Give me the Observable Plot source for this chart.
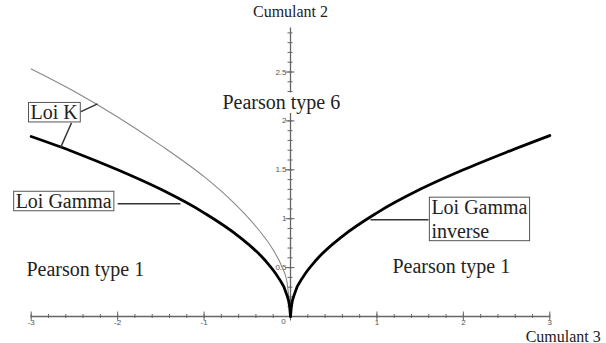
<!DOCTYPE html>
<html>
<head>
<meta charset="utf-8">
<script src="https://cdn.jsdelivr.net/npm/d3@7"></script>
<script src="https://cdn.jsdelivr.net/npm/@observablehq/plot@0.6"></script>
<style>
  html, body { margin: 0; padding: 0; background: #fff; }
  #chart svg { display: block; background: #fff; }
</style>
</head>
<body>
<div id="chart"></div>
<script>
// ---- data ----
const gammaLeftX  = [-3, -2.5, -2, -1.5, -1, -0.6, -0.3, -0.15, -0.05, -0.01, 0];
const gammaLeftY  = [1.84, 1.68, 1.50, 1.30, 1.06, 0.82, 0.58, 0.41, 0.24, 0.10, 0];
const gammaRightX = [0, 0.01, 0.05, 0.15, 0.3, 0.6, 1, 1.5, 2, 2.5, 3];
const gammaRightY = [0, 0.10, 0.24, 0.41, 0.58, 0.82, 1.06, 1.30, 1.50, 1.68, 1.85];
const loiKX = [-3, -2.5, -2, -1.5, -1, -0.7, -0.4, -0.2, -0.1, -0.04, 0];
const loiKY = [2.53, 2.30, 2.04, 1.75, 1.43, 1.20, 0.92, 0.68, 0.51, 0.35, 0];

const xMajorTicks = [-3, -2, -1, 0, 1, 2, 3];
const xTickLabels = ["-3", "-2", "-1", "0", "1", "2", "3"];
const xMinorTicks = d3.range(-30, 31, 2).map(v => v / 10);
const yMajorTicks = [0.5, 1, 1.5, 2, 2.5];
const yTickLabels = ["0.5", "1", "1.5", "2", "2.5"];
const yMinorTicks = d3.range(1, 30).map(v => v / 10);
const yAxisTop = 2.95;

// region labels (data coordinates of text baseline start)
const regionText = ["Pearson type 6", "Pearson type 1", "Pearson type 1"];
const regionX = [-0.787, -3.055, 1.18];
const regionY = [2.122, 0.418, 0.449];

// boxed curve labels
const boxText = ["Loi K", "Loi Gamma", "Loi Gamma\ninverse"];
const boxX = [-3.008, -3.18, 1.63];
const boxY = [2.02, 1.112, 0.806];

// leader lines
const leaderX1 = [-2.43, -2.534, -2.0, 0.926];
const leaderY1 = [2.092, 1.98, 1.153, 0.99];
const leaderX2 = [-2.233, -2.661, -1.273, 1.597];
const leaderY2 = [2.173, 1.724, 1.153, 0.99];

const axisTitles = ["Cumulant 2", "Cumulant 3"];

// ---- build tables ----
const gammaLeft = gammaLeftX.map((x, i) => ({x, y: gammaLeftY[i]}));
const gammaRight = gammaRightX.map((x, i) => ({x, y: gammaRightY[i]}));
const loiK = loiKX.map((x, i) => ({x, y: loiKY[i]}));
const regions = regionText.map((t, i) => ({t, x: regionX[i], y: regionY[i]}));
const boxes = boxText.map((t, i) => ({t, x: boxX[i], y: boxY[i]}));
const leaders = leaderX1.map((x1, i) => ({x1, y1: leaderY1[i], x2: leaderX2[i], y2: leaderY2[i]}));
const xLabels = xMajorTicks.map((v, i) => ({v, t: xTickLabels[i]}));
const yLabels = yMajorTicks.map((v, i) => ({v, t: yTickLabels[i]}));

const axisColor = "#666";
const serif = "'Liberation Serif', 'Times New Roman', serif";
const sans = "'Liberation Sans', Arial, sans-serif";

const svg = Plot.plot({
  width: 606,
  height: 343,
  margin: 0,
  x: {domain: [-3, 3], range: [30.7, 549.3], axis: null},
  y: {domain: [0, 3], range: [316, 22.6], axis: null},
  style: {background: "#fff"},
  marks: [
    // axes lines
    Plot.ruleY([0], {x1: -3, x2: 3, stroke: axisColor, strokeWidth: 1.3}),
    Plot.ruleX([0], {y1: 0, y2: yAxisTop, stroke: axisColor, strokeWidth: 1.3}),
    // x ticks
    Plot.ruleX(xMinorTicks, {x: d => d, y1: 0, y2: 0, insetTop: -2, insetBottom: -2, stroke: axisColor, strokeWidth: 1}),
    Plot.ruleX(xMajorTicks, {x: d => d, y1: 0, y2: 0, insetTop: -4.5, insetBottom: -4.5, stroke: axisColor, strokeWidth: 1}),
    // y ticks
    Plot.ruleY(yMinorTicks, {y: d => d, x1: 0, x2: 0, insetLeft: -2.5, insetRight: -2.5, stroke: axisColor, strokeWidth: 1}),
    Plot.ruleY(yMajorTicks, {y: d => d, x1: 0, x2: 0, insetLeft: -4.5, insetRight: -4.5, stroke: axisColor, strokeWidth: 1}),
    // tick labels
    Plot.text(xLabels.filter(d => d.v !== 0), {x: "v", y: 0, text: "t", dy: 6, fontSize: 8, fill: "#555", fontFamily: sans}),
    Plot.text(xLabels.filter(d => d.v === 0), {x: "v", y: 0, text: "t", dy: 5, dx: -7, fontSize: 8, fill: "#555", fontFamily: sans}),
    Plot.text(yLabels, {x: 0, y: "v", text: "t", dx: -4, textAnchor: "end", fontSize: 8, fill: "#555", fontFamily: sans}),
    // curves
    Plot.line(loiK, {x: "x", y: "y", stroke: "#888", strokeWidth: 1.1, curve: "monotone-x"}),
    Plot.line(gammaLeft, {x: "x", y: "y", stroke: "#000", strokeWidth: 2.8, curve: "monotone-x"}),
    Plot.line(gammaRight, {x: "x", y: "y", stroke: "#000", strokeWidth: 2.8, curve: "monotone-x"}),
    // leader lines
    Plot.link(leaders, {x1: "x1", y1: "y1", x2: "x2", y2: "y2", stroke: "#333", strokeWidth: 1.4}),
    // region labels
    Plot.text(regions, {x: "x", y: "y", text: "t", textAnchor: "start", lineAnchor: "bottom", fontSize: 20, fontFamily: serif, fill: "#222"}),
    // boxed labels
    Plot.text(boxes, {x: "x", y: "y", text: "t", textAnchor: "start", lineAnchor: "bottom", lineHeight: 1.2, fontSize: 20, fontFamily: serif, fill: "#222"}),
    // axis titles
    Plot.text([axisTitles[0]], {x: 0, y: 3, text: d => d, textAnchor: "middle", lineAnchor: "bottom", dy: -6, fontSize: 16, fontFamily: serif, fill: "#222"}),
    Plot.text([axisTitles[1]], {x: 3, y: 0, text: d => d, textAnchor: "end", lineAnchor: "bottom", dx: 51, dy: 25, fontSize: 16, fontFamily: serif, fill: "#222"})
  ]
});

document.getElementById("chart").appendChild(svg);

// draw boxes around curve labels, white backing behind "Pearson type 6"
svg.querySelectorAll("text").forEach(t => {
  const txt = t.textContent;
  const boxed = txt.startsWith("Loi");
  const backed = txt === "Pearson type 6";
  if (!boxed && !backed) return;
  const bb = t.getBBox();
  const r = document.createElementNS("http://www.w3.org/2000/svg", "rect");
  r.setAttribute("x", bb.x - 2);
  r.setAttribute("y", bb.y + 1.5);
  r.setAttribute("width", bb.width + 4);
  r.setAttribute("height", bb.height - 2.5);
  r.setAttribute("fill", "#fff");
  r.setAttribute("stroke", boxed ? "#555" : "none");
  r.setAttribute("stroke-width", 1);
  const tr = t.getAttribute("transform");
  if (tr) r.setAttribute("transform", tr);
  t.parentNode.insertBefore(r, t);
});
</script>
</body>
</html>
